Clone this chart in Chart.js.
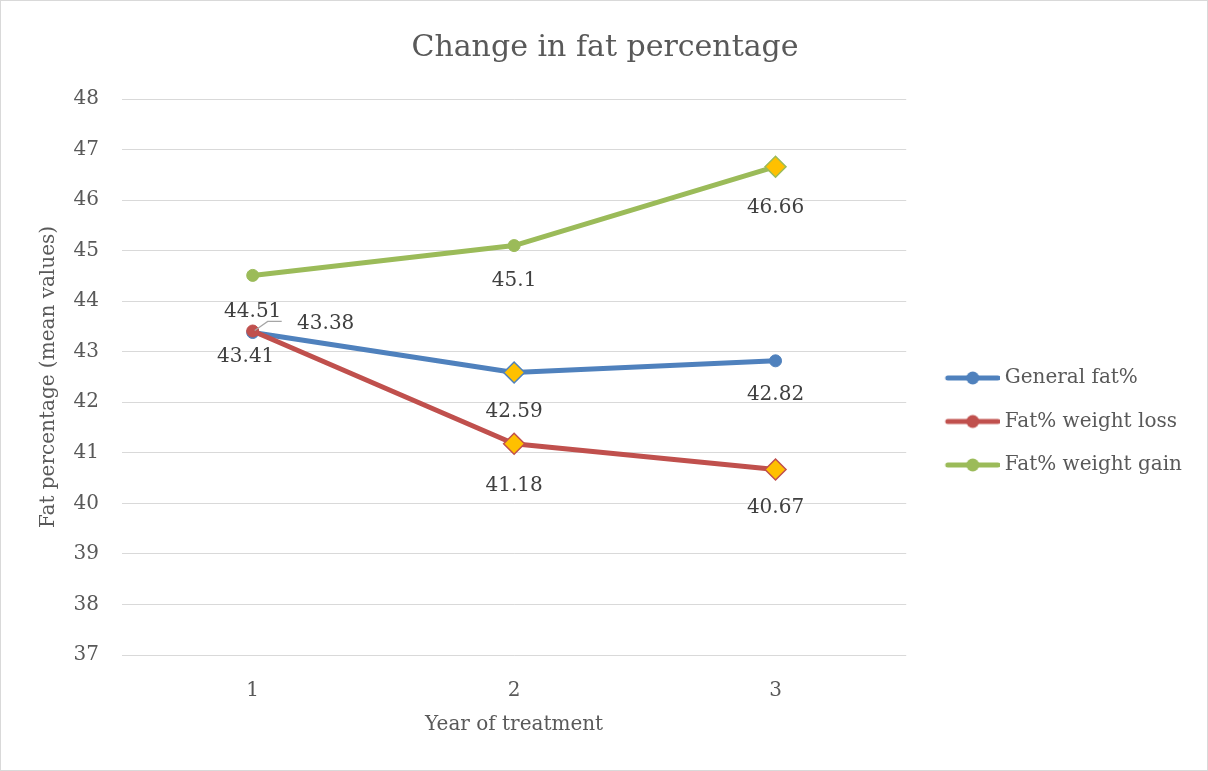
<!DOCTYPE html>
<html>
<head>
<meta charset="utf-8">
<script src="https://cdn.jsdelivr.net/npm/chart.js@4/dist/chart.umd.min.js"></script>
<style>
  html, body { margin: 0; padding: 0; background: #fff; }
  #wrap { width: 1208px; height: 771px; }
</style>
</head>
<body>
<div id="wrap"><canvas id="c" width="1208" height="771"></canvas></div>
<script>
// Mean fat percentage per year of treatment
const years = ['1', '2', '3'];
const generalFat = [43.38, 42.59, 42.82];
const fatWeightLoss = [43.41, 41.18, 40.67];
const fatWeightGain = [44.51, 45.1, 46.66];
const seriesNames = ['General fat%', 'Fat% weight loss', 'Fat% weight gain'];
const yMin = 37, yMax = 48, yStep = 1;

const FONT = "'DejaVu Serif', 'Liberation Serif', serif";
const TEXT = '#595959';
const LABEL = '#404040';
const GRID = '#d9d9d9';
const GOLD = '#ffc000';
const colors = ['#4f81bd', '#c0504d', '#9bbb59'];

// marker shape per point (circle or gold diamond)
const markerShapes = [
  ['circle', 'rectRot', 'circle'],
  ['circle', 'rectRot', 'rectRot'],
  ['circle', 'circle', 'rectRot']
];
// value-label offsets from each point, in pixels [dx, dy]
const labelOffsets = [
  [[73, -9], [0, 39], [0, 34]],
  [[-7, 26], [0, 42], [0, 38]],
  [[0, 36], [0, 35], [0, 41]]
];

function makeDataset(i, values) {
  const shapes = markerShapes[i];
  return {
    label: seriesNames[i],
    data: values,
    borderColor: colors[i],
    backgroundColor: colors[i],
    borderWidth: 5,
    borderCapStyle: 'round',
    borderJoinStyle: 'round',
    tension: 0,
    pointStyle: shapes,
    pointRadius: shapes.map(s => s === 'rectRot' ? 10.5 : 6),
    pointHoverRadius: shapes.map(s => s === 'rectRot' ? 10.5 : 6),
    pointBackgroundColor: shapes.map(s => s === 'rectRot' ? GOLD : colors[i]),
    pointBorderColor: colors[i],
    pointBorderWidth: shapes.map(s => s === 'rectRot' ? 1.5 : 1),
    order: 2 - i
  };
}

// legend swatch: a short line with a round marker in the middle
function legendSwatch(color) {
  const c = document.createElement('canvas');
  c.width = 79; c.height = 16;
  const g = c.getContext('2d');
  g.strokeStyle = color;
  g.lineWidth = 5;
  g.lineCap = 'round';
  g.beginPath(); g.moveTo(27, 8); g.lineTo(77, 8); g.stroke();
  g.fillStyle = color;
  g.beginPath(); g.arc(52, 8, 6.5, 0, Math.PI * 2); g.fill();
  return c;
}
const swatches = colors.map(legendSwatch);

const backgroundPlugin = {
  id: 'frame',
  beforeDraw(chart) {
    const ctx = chart.ctx;
    ctx.save();
    ctx.fillStyle = '#ffffff';
    ctx.fillRect(0, 0, chart.width, chart.height);
    ctx.strokeStyle = GRID;
    ctx.lineWidth = 1;
    ctx.strokeRect(0.5, 0.5, chart.width - 1, chart.height - 1);
    ctx.restore();
  }
};

// nudge the legend block below the vertical middle and centre the title on the canvas
const layoutNudge = {
  id: 'layoutNudge',
  afterLayout(chart) {
    const lg = chart.legend;
    if (lg) { lg.top += 36; lg.bottom += 36; lg.left -= 4; lg.right -= 4; }
    const tb = chart.titleBlock;
    if (tb) { tb.left += 7; tb.right += 7; }
  }
};

const valueLabelPlugin = {
  id: 'valueLabels',
  afterDraw(chart) {
    const ctx = chart.ctx;
    ctx.save();
    ctx.font = '20px ' + FONT;
    ctx.fillStyle = LABEL;
    ctx.textAlign = 'center';
    ctx.textBaseline = 'middle';
    chart.data.datasets.forEach((ds, i) => {
      const meta = chart.getDatasetMeta(i);
      meta.data.forEach((pt, j) => {
        const [dx, dy] = labelOffsets[i][j];
        ctx.fillText(String(ds.data[j]), pt.x + dx, pt.y + dy);
      });
    });
    // leader line from the first weight-gain label
    const gp = chart.getDatasetMeta(2).data[0];
    const lx = gp.x + labelOffsets[2][0][0];
    const ly = gp.y + labelOffsets[2][0][1];
    ctx.strokeStyle = '#a6a6a6';
    ctx.lineWidth = 1.2;
    ctx.beginPath();
    ctx.moveTo(lx + 29, ly + 10);
    ctx.lineTo(lx + 15, ly + 10);
    ctx.lineTo(lx + 2, ly + 19);
    ctx.stroke();
    ctx.restore();
  }
};

new Chart(document.getElementById('c'), {
  type: 'line',
  data: {
    labels: years,
    datasets: [
      makeDataset(0, generalFat),
      makeDataset(1, fatWeightLoss),
      makeDataset(2, fatWeightGain)
    ]
  },
  options: {
    responsive: false,
    animation: false,
    devicePixelRatio: 1,
    layout: { padding: { left: 0, right: 12, top: 0, bottom: 0 } },
    plugins: {
      tooltip: { enabled: false },
      title: {
        display: true,
        text: 'Change in fat percentage',
        color: TEXT,
        font: { family: FONT, size: 30, weight: 'normal' },
        padding: { top: 30, bottom: 33 }
      },
      legend: {
        display: true,
        position: 'right',
        align: 'center',
        labels: {
          color: TEXT,
          font: { family: FONT, size: 20 },
          padding: 23.5,
          usePointStyle: true,
          pointStyleWidth: 69,
          boxHeight: 16,
          generateLabels(chart) {
            return chart.data.datasets.map((ds, i) => ({
              text: ds.label,
              pointStyle: swatches[i],
              fillStyle: colors[i],
              strokeStyle: colors[i],
              lineWidth: 0,
              fontColor: TEXT,
              hidden: false,
              datasetIndex: i
            }));
          }
        }
      }
    },
    scales: {
      x: {
        offset: true,
        grid: { display: false },
        border: { display: false },
        ticks: { color: TEXT, font: { family: FONT, size: 20 }, padding: 16, maxRotation: 0 },
        title: {
          display: true,
          text: 'Year of treatment',
          color: TEXT,
          font: { family: FONT, size: 20 },
          padding: { top: 0, bottom: 34 }
        },
        afterFit(s) { s.height = 116; }
      },
      y: {
        min: yMin,
        max: yMax,
        ticks: { stepSize: yStep, color: TEXT, font: { family: FONT, size: 20 }, padding: 23 },
        grid: { color: GRID, lineWidth: 1, drawTicks: false },
        border: { display: false },
        title: {
          display: true,
          text: 'Fat percentage (mean values)',
          color: TEXT,
          font: { family: FONT, size: 20 },
          padding: { top: 37, bottom: 0 }
        },
        afterFit(s) { s.width = 122; }
      }
    }
  },
  plugins: [backgroundPlugin, layoutNudge, valueLabelPlugin]
});
</script>
</body>
</html>
